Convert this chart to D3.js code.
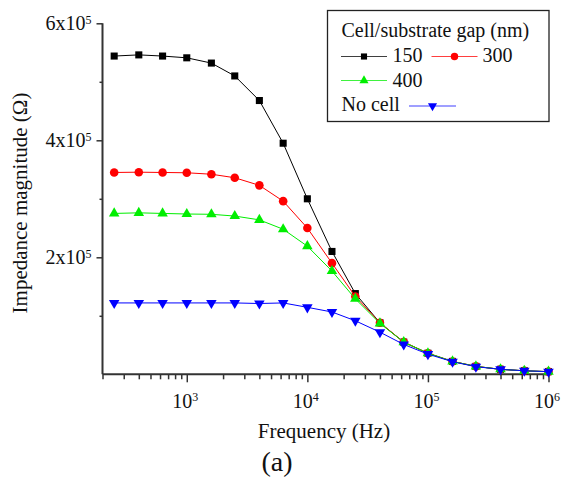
<!DOCTYPE html>
<html>
<head>
<meta charset="utf-8">
<script src="https://cdn.jsdelivr.net/npm/d3@7"></script>
<style>
  html, body { margin: 0; padding: 0; background: #fff; }
  svg { display: block; }
  svg text { font-family: 'Liberation Serif', 'Times New Roman', Times, 'DejaVu Serif', serif; }
</style>
</head>
<body>
<svg id="chart" width="563" height="479"></svg>
<script>
// ---- data ----
const freqs = [250, 400, 630, 1000, 1600, 2500, 4000, 6300, 10000, 16000, 25000, 40000, 63000, 100000, 160000, 250000, 400000, 630000, 1000000];
const gap150 = [544000, 546000, 544000, 541000, 532000, 510000, 468000, 395000, 300000, 210000, 138000, 88000, 55000, 36000, 22000, 13500, 8500, 6000, 4500];
const gap300 = [345000, 345500, 345000, 344500, 342000, 336000, 323000, 296000, 250000, 190000, 133000, 88000, 55000, 36000, 22000, 13500, 8500, 6000, 4500];
const gap400 = [275000, 276000, 275000, 274000, 273500, 270500, 264000, 248000, 219000, 176500, 129000, 87000, 55000, 36000, 22000, 13500, 8500, 6000, 4500];
const noCell = [122000, 122000, 122000, 122000, 122000, 122000, 121000, 122000, 114500, 106500, 91500, 72000, 51000, 34500, 21500, 13000, 8500, 6000, 4500];
const seriesNames = ["150", "300", "400", "No cell"];
const yMajorTicks = [200000, 400000, 600000];
const yMajorLabels = [["2x10", "5"], ["4x10", "5"], ["6x10", "5"]];
const yMinorTicks = [100000, 300000, 500000];
const xMajorTicks = [1e3, 1e4, 1e5, 1e6];
const xMajorLabels = [["10", "3"], ["10", "4"], ["10", "5"], ["10", "6"]];
const legendTitle = "Cell/substrate gap (nm)";

// ---- styles ----
const FONT = "'Liberation Serif', 'Times New Roman', Times, 'DejaVu Serif', serif";
const colors = ["#000000", "#ff0000", "#00ee00", "#0000ff"];
const symbols = [d3.symbolSquare, d3.symbolCircle, d3.symbolTriangle, d3.symbolTriangle];
const symSizes = [50, 58, 48, 48];
const rotations = [0, 0, 0, 180];
const axisColor = "#333";

const svg = d3.select("#chart");
const x = d3.scaleLog().domain([200, 1e6]).range([102.5, 548.5]);
const y = d3.scaleLinear().domain([0, 600000]).range([374.3, 23.3]);

const series = [gap150, gap300, gap400, noCell].map((vals, i) => ({
  name: seriesNames[i],
  color: colors[i],
  points: freqs.map((f, j) => ({ f, v: vals[j] }))
}));

// ---- axes ----
function styleAxis(g) {
  g.attr("font-family", FONT);
  g.select(".domain").attr("stroke", axisColor).attr("stroke-width", 2);
  g.selectAll(".tick line").attr("stroke", axisColor).attr("stroke-width", 1.5);
}

const yMinor = svg.append("g").attr("transform", `translate(${x.range()[0]},0)`)
  .call(d3.axisLeft(y).tickValues(yMinorTicks).tickSize(3).tickSizeOuter(0).tickFormat(""));
styleAxis(yMinor);
const yMajor = svg.append("g").attr("transform", `translate(${x.range()[0]},0)`)
  .call(d3.axisLeft(y).tickValues(yMajorTicks).tickSize(6).tickSizeOuter(0).tickFormat(""));
styleAxis(yMajor);
yMajor.selectAll(".tick").each(function (d, i) {
  const t = d3.select(this).append("text")
    .attr("x", -11).attr("dy", "0.33em")
    .attr("text-anchor", "end")
    .attr("fill", "#111")
    .attr("font-family", FONT)
    .style("font-size", "20px");
  t.append("tspan").text(yMajorLabels[i][0]);
  t.append("tspan").attr("dy", "-0.55em").style("font-size", "12px").text(yMajorLabels[i][1]);
});
yMinor.select(".domain").attr("d", `M0,${y(0)}V${y(600000)}`);
yMajor.select(".domain").remove();

const xMinorTicks = [];
for (let e = 2; e <= 5; e++) {
  for (let m = 2; m <= 9; m++) {
    const v = m * Math.pow(10, e);
    if (v >= 200 && v < 1e6) xMinorTicks.push(v);
  }
}
const xMinor = svg.append("g").attr("transform", `translate(0,${y.range()[0]})`)
  .call(d3.axisBottom(x).tickValues(xMinorTicks).tickSize(5).tickSizeOuter(0).tickFormat(""));
styleAxis(xMinor);
const xMajor = svg.append("g").attr("transform", `translate(0,${y.range()[0]})`)
  .call(d3.axisBottom(x).tickValues(xMajorTicks).tickSize(8).tickSizeOuter(0).tickFormat(""));
styleAxis(xMajor);
xMajor.select(".domain").remove();
xMinor.select(".domain").attr("d", `M${x.range()[0]},0H${x.range()[1]}`);
xMajor.selectAll(".tick").each(function (d, i) {
  const t = d3.select(this).append("text")
    .attr("y", 33.5)
    .attr("x", -2)
    .attr("text-anchor", "middle")
    .attr("fill", "#111")
    .attr("font-family", FONT)
    .style("font-size", "20px");
  t.append("tspan").text(xMajorLabels[i][0]);
  t.append("tspan").attr("dy", "-0.55em").style("font-size", "12px").text(xMajorLabels[i][1]);
});

// ---- axis titles ----
svg.append("text")
  .attr("x", 324).attr("y", 437.5)
  .attr("text-anchor", "middle")
  .attr("fill", "#111")
  .attr("font-family", FONT)
  .style("font-size", "21px")
  .text("Frequency (Hz)");
svg.append("text")
  .attr("x", 277).attr("y", 471)
  .attr("text-anchor", "middle")
  .attr("fill", "#111")
  .attr("font-family", FONT)
  .style("font-size", "28px")
  .text("(a)");
svg.append("text")
  .attr("transform", "translate(27,203) rotate(-90)")
  .attr("text-anchor", "middle")
  .attr("fill", "#111")
  .attr("font-family", FONT)
  .style("font-size", "21px")
  .text("Impedance magnitude (Ω)");

// ---- series ----
const line = d3.line().x(d => x(d.f)).y(d => y(d.v));
series.forEach((s, i) => {
  const g = svg.append("g");
  g.append("path").datum(s.points)
    .attr("d", line)
    .attr("fill", "none")
    .attr("stroke", s.color)
    .attr("stroke-width", 1);
  g.selectAll("path.sym").data(s.points).join("path")
    .attr("class", "sym")
    .attr("d", d3.symbol().type(symbols[i]).size(symSizes[i]))
    .attr("transform", d => `translate(${x(d.f)},${y(d.v)}) rotate(${rotations[i]})`)
    .attr("fill", s.color);
});

// ---- legend ----
const lg = svg.append("g").attr("font-family", FONT);
lg.append("rect")
  .attr("x", 327.5).attr("y", 10.5).attr("width", 221.5).attr("height", 111)
  .attr("fill", "#fff").attr("stroke", "#222").attr("stroke-width", 1.3);
lg.append("text").attr("x", 341.5).attr("y", 37).attr("fill", "#111")
  .attr("font-family", FONT)
  .style("font-size", "20px").text(legendTitle);

const legendItems = [
  { i: 0, lx0: 341, lx1: 387, ly: 56.5, tx: 392.5, ty: 62, text: seriesNames[0] },
  { i: 1, lx0: 431.5, lx1: 477.5, ly: 56.5, tx: 482.5, ty: 62, text: seriesNames[1] },
  { i: 2, lx0: 341, lx1: 387, ly: 80.5, tx: 392.5, ty: 86.5, text: seriesNames[2] },
  { i: 3, lx0: 409, lx1: 456, ly: 106, tx: 341.5, ty: 111, text: seriesNames[3] }
];
legendItems.forEach(it => {
  lg.append("line")
    .attr("x1", it.lx0).attr("x2", it.lx1).attr("y1", it.ly).attr("y2", it.ly)
    .attr("stroke", colors[it.i]).attr("stroke-width", 1).attr("opacity", 0.75);
  lg.append("path")
    .attr("d", d3.symbol().type(symbols[it.i]).size(symSizes[it.i] * 0.75))
    .attr("transform", `translate(${(it.lx0 + it.lx1) / 2},${it.ly}) rotate(${rotations[it.i]})`)
    .attr("fill", colors[it.i]);
  lg.append("text").attr("x", it.tx).attr("y", it.ty).attr("fill", "#111")
    .attr("font-family", FONT)
    .style("font-size", "20px").text(it.text);
});
</script>
</body>
</html>
